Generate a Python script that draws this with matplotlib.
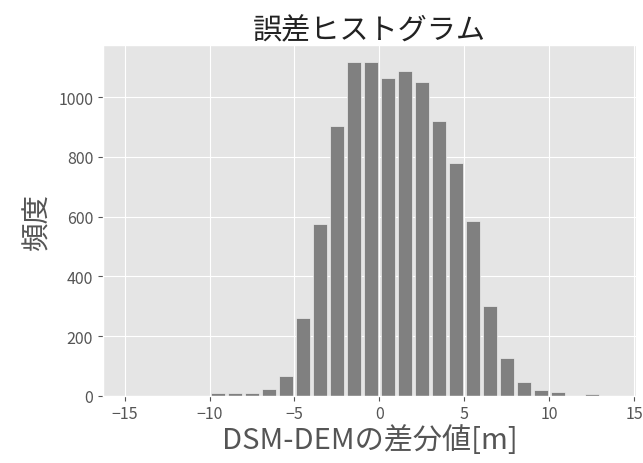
import numpy as np
import matplotlib
matplotlib.use('Agg')
import matplotlib.pyplot as plt

plt.style.use('ggplot')
plt.rcParams['font.family'] = ['Noto Sans CJK JP', 'DejaVu Sans']

# bin edges (1 m steps) and the counts
bin_edges = list(range(-15, 16))
counts = [0, 0, 0, 0, 0,
          8, 8, 8, 23, 66,
          261, 574, 903, 1119, 1119,
          1065, 1087, 1050, 920, 780,
          585, 299, 126, 46, 19,
          13, 0, 6, 0, 0]
centers = [(a + b) / 2 for a, b in zip(bin_edges[:-1], bin_edges[1:])]

fig = plt.figure(figsize=(6.43, 4.64), dpi=100)
ax = fig.add_axes([0.160, 0.145, 0.829, 0.756])

ax.hist(centers, bins=bin_edges, weights=counts, rwidth=0.8,
        color='gray', edgecolor='#EEEEEE', linewidth=0.5)

ax.set_xlim(-16.28, 15.1)
ax.set_xticks([-15, -10, -5, 0, 5, 10, 15])
ax.tick_params(labelsize=11.5)
ax.set_title('誤差ヒストグラム', fontsize=21, color='#222222', pad=5)
ax.set_xlabel('DSM-DEMの差分値[m]', fontsize=21, labelpad=2)
ax.set_ylabel('頻度', fontsize=20.5)

fig.savefig('out.png', dpi=100)
